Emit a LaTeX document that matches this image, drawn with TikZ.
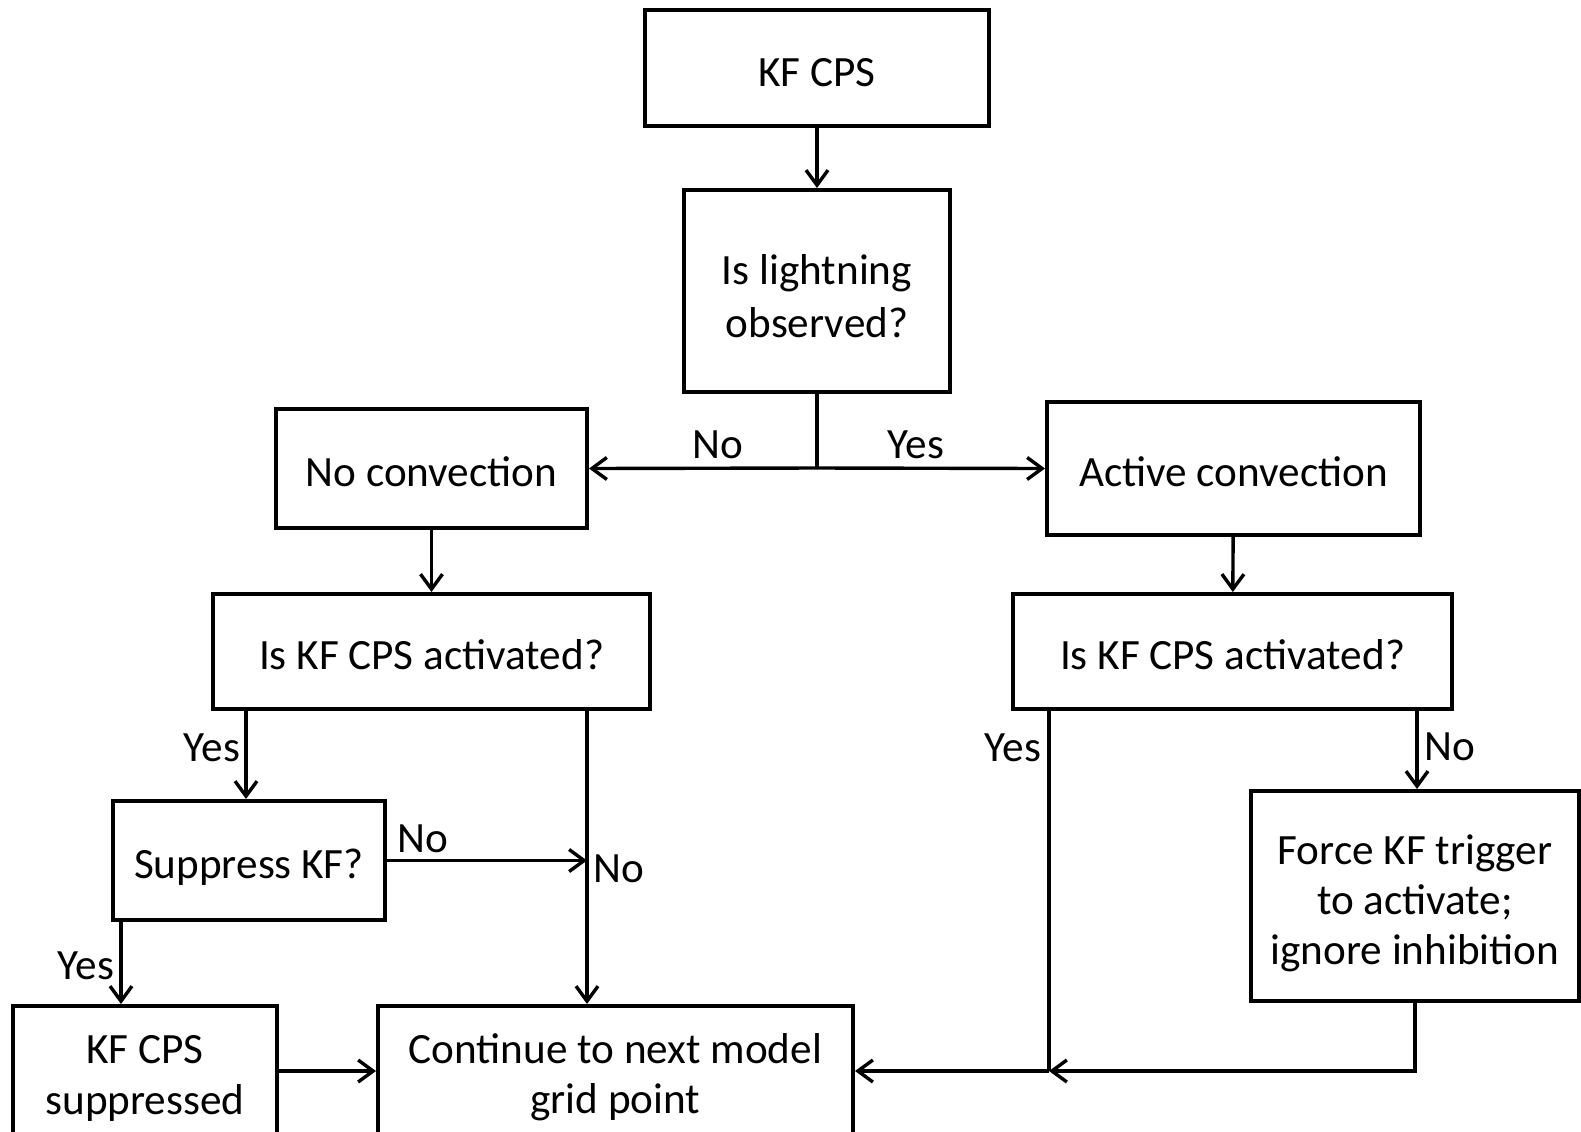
\documentclass[tikz,border=0pt]{standalone}
\usepackage{fontspec}
\setmainfont{Carlito}
\usetikzlibrary{arrows.meta}
\begin{document}
\begin{tikzpicture}[x=0.5pt,y=-0.5pt,
  every node/.style={font=\fontsize{21.6}{25.2}\selectfont},
  box/.style={draw,line width=2pt,inner sep=0pt,align=center,
    execute at begin node={\rule{0pt}{22pt}},
    execute at end node={\rule[-4pt]{0pt}{0pt}}},
  lab/.style={inner sep=0pt},
  ln/.style={line width=1.7pt},
  arr/.style={line width=1.7pt,-{Straight Barb[length=7.5pt,width=11pt]}}]
\useasboundingbox (0,0) rectangle (1581,1131);
\clip (0,0) rectangle (1581,1131);
\node[box,minimum width=172pt,minimum height=58pt] (kf) at (817,68) {KF CPS};
\node[box,minimum width=133pt,minimum height=101pt,font=\fontsize{21.6}{26.2}\selectfont] (light) at (817,291) {\rule{0pt}{24.1pt}Is lightning\\observed?};
\node[box,minimum width=155.5pt,minimum height=59.5pt] (noconv) at (431.5,468.5) {No convection};
\node[box,minimum width=186.5pt,minimum height=66.5pt] (active) at (1233.5,468.5) {Active convection};
\node[box,minimum width=218.5pt,minimum height=57.5pt] (act1) at (431.5,651.5) {Is KF CPS activated?};
\node[box,minimum width=219.5pt,minimum height=57.5pt] (act2) at (1232.5,651.5) {Is KF CPS activated?};
\node[box,minimum width=136pt,minimum height=59.5pt] (supp) at (249,860.5) {Suppress KF?};
\node[box,minimum width=164pt,minimum height=105pt] (force) at (1415,896) {\rule{0pt}{22.5pt}Force KF trigger\\to activate;\\ignore inhibition};
\node[box,minimum width=132pt,minimum height=68pt] (kfsupp) at (145,1074) {\rule{0pt}{19pt}KF CPS\\suppressed};
\node[box,minimum width=237.5pt,minimum height=68pt] (cont) at (615.5,1074) {\rule{0pt}{18.5pt}Continue to next model\\grid point};
% coordinates
\coordinate (split) at (817,468);
\coordinate (y1) at (246,709);
\coordinate (n1) at (587,709);
\coordinate (y3) at (121,920);
\coordinate (y2) at (1049,709);
\coordinate (j) at (1049,1071);
\coordinate (n2) at (1417,709);
% connectors
\draw[arr] (kf) -- (light);
\draw[ln] (light.south) -- (split);
\draw[arr] (split) -- (noconv.east);
\draw[arr] (split) -- (active.west);
\draw[arr] (noconv) -- (act1);
\draw[arr] (active) -- (act2);
\draw[arr] (y1) -- (y1 |- supp.north);
\draw[arr] (n1) -- (n1 |- cont.north);
\draw[arr] (supp.east) -- (n1 |- supp.east);
\draw[arr] (y3) -- (y3 |- kfsupp.north);
\draw[arr] (kfsupp.east |- 0,1071) -- (cont.west |- 0,1071);
\draw[ln] (y2) -- (j);
\draw[arr] (n2) -- (n2 |- force.north);
\draw[arr] (force.south) |- (j);
\draw[arr] (j) -- (cont.east |- j);
% labels
\node[lab] (l1) at (718,445) {No};
\node[lab] (l2) at (916,445) {Yes};
\node[lab] (l3) at (212,748) {Yes};
\node[lab] (l4) at (619,869) {No};
\node[lab] (l5) at (423,839) {No};
\node[lab] (l6) at (86,966) {Yes};
\node[lab] (l7) at (1013,748) {Yes};
\node[lab] (l8) at (1450,747) {No};
\end{tikzpicture}
\end{document}
